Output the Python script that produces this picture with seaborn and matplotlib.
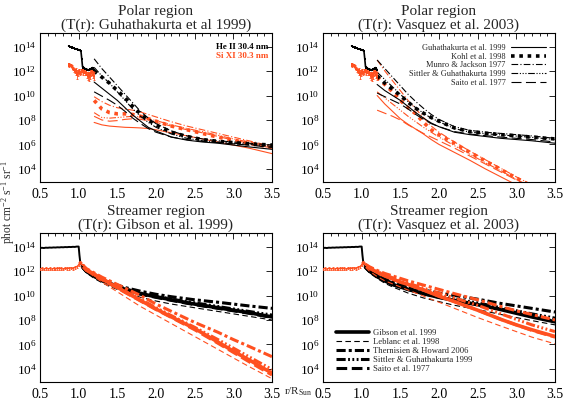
import numpy as np
import pandas as pd
import matplotlib
matplotlib.use("Agg")
import matplotlib.pyplot as plt
import seaborn as sns
from matplotlib.lines import Line2D
from matplotlib.ticker import FixedLocator, MultipleLocator, NullLocator, FuncFormatter

# ---------------- data (log10 of intensity) ----------------
# Polar observed profiles (He II black, Si XI red)
R_POL_K = [0.87, 0.88, 0.89, 0.90, 0.91, 0.92, 0.93, 0.94, 0.95, 0.96, 0.97, 0.98, 0.99, 1.00, 1.01, 1.02, 1.03,
           1.04, 1.05, 1.06, 1.07, 1.08, 1.09, 1.10, 1.11, 1.12, 1.13, 1.14, 1.15, 1.16, 1.17, 1.18, 1.19, 1.20]
L_POL_K = [14.05, 14.02, 13.98, 13.97, 13.93, 13.92, 13.9, 13.86, 13.83, 13.8, 13.79, 13.78, 13.76, 13.74, 13.7,
           13.68, 13.6, 13.0, 12.35, 12.25, 12.28, 12.2, 12.15, 12.18, 12.1, 12.12, 12.05, 12.08, 12.15, 12.2,
           12.25, 12.28, 12.2, 12.05]
R_POL_R = R_POL_K
L_POL_R = [12.45, 12.55, 12.5, 12.5, 12.4, 12.35, 12.2, 12.1, 12.0, 12.05, 11.9, 11.7, 11.8, 11.95, 12.0, 11.85,
           11.9, 12.05, 12.0, 11.9, 11.95, 11.8, 11.85, 11.9, 11.7, 11.6, 11.75, 11.5, 11.7, 11.85, 11.9, 12.0,
           11.7, 11.6]
E_POL_R = [0.1, 0.1, 0.1, 0.1, 0.1, 0.1, 0.1, 0.15, 0.15, 0.2, 0.2, 0.35, 0.2, 0.2, 0.15, 0.15, 0.15, 0.15,
           0.15, 0.2, 0.15, 0.15, 0.2, 0.2, 0.25, 0.3, 0.2, 0.3, 0.35, 0.25, 0.2, 0.2, 0.3, 0.3]

# Polar models
R_MOD_P = [1.2, 1.3, 1.4, 1.5, 1.6, 1.7, 1.8, 1.9, 2.0, 2.2, 2.4, 2.6, 2.8, 3.0, 3.2, 3.5]
# panel (a): T(r) Guhathakurta et al 1999
A_K_GUHA = [11.1, 10.6, 10.1, 9.6, 9.0, 8.4, 7.9, 7.4, 7.1, 6.6, 6.35, 6.2, 6.1, 5.95, 5.8, 5.6]
A_K_KOHL = [12.0, 11.5, 11.0, 10.4, 9.8, 9.1, 8.5, 8.0, 7.6, 7.0, 6.65, 6.4, 6.25, 6.15, 6.05, 5.95]
A_K_MUNRO = [13.0, 12.2, 11.5, 10.8, 10.1, 9.4, 8.7, 8.15, 7.7, 7.1, 6.7, 6.45, 6.3, 6.2, 6.1, 5.95]
A_K_SITT = [12.3, 11.6, 11.0, 10.3, 9.6, 8.9, 8.3, 7.8, 7.4, 6.85, 6.5, 6.3, 6.2, 6.1, 6.0, 5.85]
A_K_SAITO = [10.3, 9.95, 9.6, 9.2, 8.7, 8.15, 7.7, 7.3, 7.0, 6.6, 6.4, 6.25, 6.15, 6.05, 5.95, 5.75]
A_R_GUHA = [7.8, 7.6, 7.5, 7.45, 7.4, 7.38, 7.35, 7.3, 7.2, 6.95, 6.7, 6.45, 6.2, 5.95, 5.7, 5.25]
A_R_KOHL = [9.6, 8.9, 8.6, 8.5, 8.5, 8.45, 8.3, 8.1, 7.9, 7.5, 7.2, 6.9, 6.6, 6.35, 6.1, 5.75]
A_R_MUNRO = [9.9, 9.5, 9.2, 9.0, 8.9, 8.8, 8.65, 8.45, 8.25, 7.85, 7.5, 7.2, 6.9, 6.6, 6.3, 5.85]
A_R_SITT = [8.6, 8.2, 8.15, 8.2, 8.25, 8.3, 8.25, 8.1, 7.95, 7.6, 7.3, 7.05, 6.75, 6.45, 6.2, 5.8]
A_R_SAITO = [8.3, 8.0, 7.9, 7.95, 8.05, 8.1, 8.05, 7.95, 7.8, 7.5, 7.2, 6.95, 6.65, 6.35, 6.1, 5.7]
# panel (b): T(r) Vasquez et al. 2003
B_K_GUHA = [10.9, 10.4, 10.0, 9.6, 9.1, 8.6, 8.15, 7.75, 7.45, 7.0, 6.8, 6.65, 6.5, 6.4, 6.3, 6.1]
B_K_KOHL = [11.6, 11.0, 10.5, 10.0, 9.45, 8.95, 8.55, 8.2, 7.9, 7.35, 7.05, 6.92, 6.8, 6.7, 6.6, 6.45]
B_K_MUNRO = [12.9, 12.2, 11.5, 10.8, 10.1, 9.5, 8.95, 8.45, 8.05, 7.45, 7.15, 7.0, 6.9, 6.8, 6.7, 6.5]
B_K_SITT = [11.9, 11.3, 10.7, 10.1, 9.5, 9.0, 8.55, 8.15, 7.85, 7.3, 7.0, 6.88, 6.78, 6.68, 6.58, 6.4]
B_K_SAITO = [10.2, 9.9, 9.6, 9.3, 8.9, 8.45, 8.05, 7.7, 7.45, 7.05, 6.85, 6.72, 6.6, 6.5, 6.4, 6.2]
R_MOD_PV = [1.2, 1.3, 1.4, 1.5, 1.6, 1.7, 1.8, 1.9, 2.0, 2.2, 2.4, 2.6, 2.8, 3.0, 3.2]
B_R_GUHA = [10.0, 9.3, 8.7, 8.1, 7.65, 7.25, 6.85, 6.4, 6.0, 5.35, 4.7, 4.0, 3.35, 2.7, 2.1]
B_R_KOHL = [11.5, 10.9, 10.3, 9.6, 9.0, 8.5, 7.8, 7.2, 6.8, 6.1, 5.35, 4.65, 3.95, 3.25, 2.6]
B_R_MUNRO = [12.9, 12.0, 11.2, 10.4, 9.6, 8.9, 8.2, 7.5, 7.0, 6.2, 5.45, 4.75, 4.05, 3.35, 2.7]
B_R_SITT = [10.3, 9.8, 9.3, 8.8, 8.3, 7.85, 7.4, 7.0, 6.6, 5.9, 5.2, 4.5, 3.85, 3.15, 2.5]
B_R_SAITO = [8.8, 8.55, 8.3, 8.0, 7.6, 7.25, 6.9, 6.6, 6.3, 5.7, 5.05, 4.4, 3.75, 3.1, 2.45]

# Streamer observed (disk part)
R_STR = [0.50, 0.525, 0.55, 0.575, 0.60, 0.625, 0.65, 0.675, 0.70, 0.725, 0.75, 0.775, 0.80, 0.825, 0.85,
         0.875, 0.90, 0.925, 0.95, 0.975, 1.00, 1.01, 1.02, 1.03, 1.05]
L_STR_K = [13.88, 13.9, 13.88, 13.91, 13.9, 13.92, 13.91, 13.93, 13.92, 13.94, 13.93, 13.95, 13.94, 13.96, 13.95,
           13.97, 13.96, 13.98, 13.97, 14.0, 14.0, 13.3, 12.75, 12.6, 12.35]
L_STR_R = [12.18, 12.2, 12.15, 12.22, 12.18, 12.2, 12.16, 12.21, 12.17, 12.22, 12.19, 12.2, 12.16, 12.23, 12.2,
           12.22, 12.25, 12.22, 12.28, 12.35, 12.5, 12.65, 12.75, 12.65, 12.45]
E_STR_R = [0.1] * 25

# Streamer models
R_MOD_S = [1.05, 1.1, 1.2, 1.3, 1.4, 1.5, 1.6, 1.8, 2.0, 2.2, 2.5, 2.8, 3.0, 3.2, 3.5]
# panel (c): T(r) Gibson et al. 1999
C_K_GIBS = [12.35, 12.0, 11.6, 11.25, 11.0, 10.75, 10.5, 10.15, 9.9, 9.65, 9.3, 9.0, 8.8, 8.6, 8.25]
C_K_LEBL = [12.2, 11.85, 11.4, 11.05, 10.75, 10.5, 10.25, 9.85, 9.55, 9.3, 9.0, 8.7, 8.5, 8.3, 8.0]
C_K_THER = [12.4, 12.05, 11.6, 11.3, 11.05, 10.85, 10.65, 10.35, 10.1, 9.9, 9.65, 9.45, 9.3, 9.15, 8.95]
C_K_SITT = [12.35, 12.0, 11.6, 11.3, 11.05, 10.8, 10.55, 10.2, 9.95, 9.7, 9.4, 9.1, 8.9, 8.7, 8.4]
C_K_SAITO = [12.3, 11.95, 11.55, 11.2, 10.95, 10.7, 10.45, 10.1, 9.85, 9.6, 9.25, 8.95, 8.75, 8.55, 8.2]
C_R_GIBS = [12.45, 12.1, 11.75, 11.35, 11.0, 10.67, 10.3, 9.6, 8.9, 8.25, 7.3, 6.2, 5.45, 4.75, 3.65]
C_R_LEBL = [12.35, 12.0, 11.55, 11.1, 10.7, 10.3, 9.9, 9.1, 8.4, 7.7, 6.65, 5.6, 4.9, 4.2, 3.2]
C_R_THER = [12.5, 12.2, 11.85, 11.5, 11.2, 10.9, 10.6, 10.0, 9.3, 8.7, 7.8, 7.0, 6.4, 5.85, 5.0]
C_R_SITT = [12.45, 12.1, 11.75, 11.4, 11.05, 10.7, 10.35, 9.7, 9.0, 8.35, 7.4, 6.4, 5.7, 5.0, 3.95]
C_R_SAITO = [12.4, 12.05, 11.7, 11.3, 10.95, 10.6, 10.25, 9.55, 8.85, 8.2, 7.2, 6.1, 5.35, 4.6, 3.5]
# panel (d): T(r) Vasquez et al. 2003
D_K_GIBS = [12.3, 12.0, 11.55, 11.2, 10.9, 10.7, 10.5, 10.15, 9.85, 9.6, 9.25, 8.85, 8.55, 8.25, 7.85]
D_K_LEBL = [12.2, 11.85, 11.4, 11.0, 10.7, 10.45, 10.2, 9.8, 9.5, 9.2, 8.85, 8.45, 8.2, 7.95, 7.6]
D_K_THER = [12.4, 12.1, 11.7, 11.4, 11.15, 10.95, 10.75, 10.45, 10.2, 10.0, 9.7, 9.35, 9.15, 8.95, 8.65]
D_K_SITT = [12.35, 12.05, 11.6, 11.3, 11.0, 10.8, 10.6, 10.25, 9.95, 9.7, 9.4, 9.0, 8.75, 8.5, 8.15]
D_K_SAITO = [12.3, 12.0, 11.55, 11.2, 10.9, 10.7, 10.5, 10.15, 9.85, 9.6, 9.25, 8.9, 8.6, 8.3, 7.9]
D_R_GIBS = [12.5, 12.25, 11.9, 11.6, 11.35, 11.1, 10.9, 10.45, 9.95, 9.5, 8.8, 8.05, 7.6, 7.2, 6.65]
D_R_LEBL = [12.3, 12.0, 11.55, 11.2, 10.95, 10.7, 10.45, 9.95, 9.45, 8.95, 8.2, 7.5, 7.05, 6.6, 6.05]
D_R_THER = [12.55, 12.35, 12.05, 11.8, 11.6, 11.4, 11.2, 10.85, 10.5, 10.15, 9.65, 9.1, 8.75, 8.45, 8.0]
D_R_SITT = [12.5, 12.3, 11.95, 11.7, 11.45, 11.2, 11.0, 10.6, 10.2, 9.8, 9.2, 8.5, 8.05, 7.6, 7.05]
D_R_SAITO = [12.5, 12.25, 11.9, 11.6, 11.35, 11.1, 10.9, 10.45, 9.95, 9.5, 8.8, 8.05, 7.6, 7.15, 6.6]

TITLES = ["Polar region\n(T(r): Guhathakurta et al 1999)",
          "Polar region\n(T(r): Vasquez et al. 2003)",
          "Streamer region\n(T(r): Gibson et al. 1999)",
          "Streamer region\n(T(r): Vasquez et al. 2003)"]
LEG_POLAR = ["Guhathakurta et al. 1999", "Kohl et al. 1998", "Munro & Jackson 1977",
             "Sittler & Guhathakurta 1999", "Saito et al. 1977"]
LEG_STREAM = ["Gibson et al. 1999", "Leblanc et al. 1998", "Thernisien & Howard 2006",
              "Sittler & Guhathakurta 1999", "Saito et al. 1977"]
LINE_LABELS = ["He II 30.4 nm", "Si XI 30.3 nm"]
X_TICKS = [0.5, 1.0, 1.5, 2.0, 2.5, 3.0, 3.5]
Y_TICK_EXP = [4, 6, 8, 10, 12, 14]

# ---------------- style ----------------
BLACK = "#000000"
RED = "#ff5020"
sns.set_theme(style="white")
plt.rcParams["font.family"] = ["Liberation Serif", "DejaVu Serif"]
plt.rcParams["mathtext.fontset"] = "custom"
plt.rcParams["mathtext.rm"] = "Liberation Serif"
plt.rcParams["mathtext.it"] = "Liberation Serif:italic"
plt.rcParams["mathtext.bf"] = "Liberation Serif:bold"

LS_SOLID = "-"
LS_KOHL = (0, (1.0, 1.3))
LS_MUNRO = (0, (6, 2, 1, 2))
LS_SITT = (0, (6, 1.5, 1, 1.5, 1, 1.5, 1, 1.5))
LS_SAITO = (0, (9, 4))
LS_LEBL = (0, (5, 3))
LS_THER_T = (0, (3, 1, 1, 1))
LS_SITT_T = (0, (3, 0.8, 0.6, 0.8, 0.6, 0.8, 0.6, 0.8))
LS_SAITO_T = (0, (3.5, 1.5))

fig = plt.figure(figsize=(5.68, 4.07), dpi=100)
W, H = 568.0, 407.0
def pos(l, t, r, b):
    return [l / W, 1 - b / H, (r - l) / W, (b - t) / H]
ax_a = fig.add_axes(pos(40, 32.5, 272, 182))
ax_b = fig.add_axes(pos(323, 32.5, 555, 182))
ax_c = fig.add_axes(pos(40, 232.5, 272, 382))
ax_d = fig.add_axes(pos(323, 232.5, 555, 382))
axes = [ax_a, ax_b, ax_c, ax_d]


def draw(ax, r, logs, color, lw, ls, z=2, **kw):
    df = pd.DataFrame({"r": r, "I": 10.0 ** np.asarray(logs, dtype=float)})
    sns.lineplot(data=df, x="r", y="I", ax=ax, color=color, linewidth=lw, linestyle=ls,
                 estimator=None, sort=False, zorder=z, **kw)


def errs(ax, r, logs, edex, color, z=3):
    y = 10.0 ** np.asarray(logs, dtype=float)
    e = np.asarray(edex, dtype=float)
    ax.errorbar(r, y, yerr=[y - y / 10 ** e, y * 10 ** e - y], fmt="none", ecolor=color,
                elinewidth=0.6, capsize=1.0, capthick=0.6, zorder=z)


for ax in axes:
    ax.set_yscale("log")

# polar panels
for ax, K, Rr, RR in [
    (ax_a, [A_K_GUHA, A_K_KOHL, A_K_MUNRO, A_K_SITT, A_K_SAITO], R_MOD_P,
     [A_R_GUHA, A_R_KOHL, A_R_MUNRO, A_R_SITT, A_R_SAITO]),
    (ax_b, [B_K_GUHA, B_K_KOHL, B_K_MUNRO, B_K_SITT, B_K_SAITO], R_MOD_PV,
     [B_R_GUHA, B_R_KOHL, B_R_MUNRO, B_R_SITT, B_R_SAITO])]:
    styles = [(0.8, LS_SOLID), (2.6, LS_KOHL), (0.8, LS_MUNRO), (0.8, LS_SITT), (0.8, LS_SAITO)]
    for vals, (lw, ls) in zip(RR, styles):
        draw(ax, Rr, vals, RED, lw, ls, z=2)
    for vals, (lw, ls) in zip(K, styles):
        draw(ax, R_MOD_P, vals, BLACK, lw, ls, z=3)
    draw(ax, R_POL_R, L_POL_R, RED, 0.9, LS_SOLID, z=4, marker="s", markersize=1.8,
         markeredgewidth=0, markerfacecolor=RED)
    errs(ax, R_POL_R, L_POL_R, E_POL_R, RED, z=4)
    draw(ax, R_POL_K, L_POL_K, BLACK, 1.2, LS_SOLID, z=5, marker="s", markersize=1.8,
         markeredgewidth=0, markerfacecolor=BLACK)

# streamer panels
for ax, K, RR in [
    (ax_c, [C_K_GIBS, C_K_LEBL, C_K_THER, C_K_SITT, C_K_SAITO],
     [C_R_GIBS, C_R_LEBL, C_R_THER, C_R_SITT, C_R_SAITO]),
    (ax_d, [D_K_GIBS, D_K_LEBL, D_K_THER, D_K_SITT, D_K_SAITO],
     [D_R_GIBS, D_R_LEBL, D_R_THER, D_R_SITT, D_R_SAITO])]:
    styles = [(2.6, LS_SOLID), (0.8, LS_LEBL), (2.2, LS_THER_T), (2.2, LS_SITT_T), (2.2, LS_SAITO_T)]
    for vals, (lw, ls) in zip(K, styles):
        draw(ax, R_MOD_S, vals, BLACK, lw, ls, z=2)
    for vals, (lw, ls) in zip(RR, styles):
        draw(ax, R_MOD_S, vals, RED, lw, ls, z=3)
    draw(ax, R_STR, L_STR_K, BLACK, 1.4, LS_SOLID, z=4)
    draw(ax, R_STR, L_STR_R, RED, 1.0, LS_SOLID, z=4)
    errs(ax, R_STR, L_STR_R, E_STR_R, RED, z=4)

# axes cosmetics
for ax, title in zip(axes, TITLES):
    ax.set_xlim(0.5, 3.5)
    ax.set_ylim(10 ** 2.93, 10 ** 15.15)
    ax.xaxis.set_major_locator(FixedLocator(X_TICKS))
    ax.xaxis.set_minor_locator(MultipleLocator(0.1))
    ax.set_xticklabels([f"{v:.1f}" for v in X_TICKS])
    ax.yaxis.set_major_locator(FixedLocator([10.0 ** e for e in Y_TICK_EXP]))
    ax.yaxis.set_minor_locator(NullLocator())
    ax.yaxis.set_major_formatter(FuncFormatter(lambda v, p: r"$10^{%d}$" % round(np.log10(v))))
    ax.tick_params(which="both", direction="in", top=True, right=True, colors="black", width=0.6)
    ax.tick_params(axis="x", labelsize=10, pad=4)
    ax.tick_params(axis="y", labelsize=9.5, pad=2.5)
    ax.tick_params(which="major", length=4)
    ax.tick_params(which="minor", length=2)
    ax.set_xlabel("")
    ax.set_ylabel("")
    for s in ax.spines.values():
        s.set_color("black")
        s.set_linewidth(0.8)
    ax.set_title(title, fontsize=11, pad=3, linespacing=1.0)
    ax.set_facecolor("white")

# panel (a) line labels
ax_a.text(0.983, 0.905, LINE_LABELS[0], transform=ax_a.transAxes, ha="right", va="center",
          fontsize=6.5, color=BLACK, fontweight="bold")
ax_a.text(0.983, 0.845, LINE_LABELS[1], transform=ax_a.transAxes, ha="right", va="center",
          fontsize=6.5, color=RED, fontweight="bold")

# panel (b) legend
h_pol = [Line2D([], [], color=BLACK, lw=0.8, ls=LS_SOLID),
         Line2D([], [], color=BLACK, lw=2.6, ls=LS_KOHL),
         Line2D([], [], color=BLACK, lw=0.8, ls=LS_MUNRO),
         Line2D([], [], color=BLACK, lw=0.8, ls=LS_SITT),
         Line2D([], [], color=BLACK, lw=0.8, ls=LS_SAITO)]
ax_b.legend(h_pol, LEG_POLAR, loc="upper right", bbox_to_anchor=(0.985, 0.962), frameon=False,
            markerfirst=False, fontsize=6, handlelength=4.2, handletextpad=0.6, labelspacing=0.08,
            borderpad=0.2)

# panel (d) legend
h_str = [Line2D([], [], color=BLACK, lw=2.6, ls=LS_SOLID),
         Line2D([], [], color=BLACK, lw=0.8, ls=LS_LEBL),
         Line2D([], [], color=BLACK, lw=2.2, ls=LS_THER_T),
         Line2D([], [], color=BLACK, lw=2.2, ls=LS_SITT_T),
         Line2D([], [], color=BLACK, lw=2.2, ls=LS_SAITO_T)]
ax_d.legend(h_str, LEG_STREAM, loc="lower left", bbox_to_anchor=(0.03, 0.02), frameon=False,
            fontsize=6.2, handlelength=3.8, handletextpad=0.5, labelspacing=0.1, borderpad=0.2)

fig.text(8.5 / W, 1 - 202 / H, r"phot cm$^{-2}$ s$^{-1}$ sr$^{-1}$", rotation=90, ha="center",
         va="center", fontsize=8.3)
fig.text(298 / W, 1 - 392 / H, r"r/R$_{\mathrm{Sun}}$", ha="center", va="center", fontsize=8)

fig.savefig("out.png", dpi=100, facecolor="white")
